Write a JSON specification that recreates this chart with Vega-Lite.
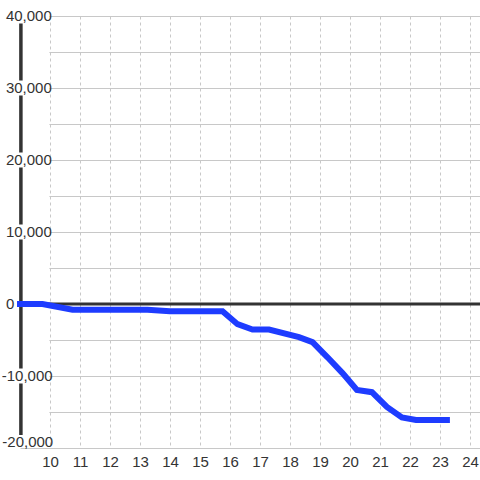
{
  "$schema": "https://vega.github.io/schema/vega-lite/v6.json",
  "width": 460,
  "height": 432,
  "autosize": {"type": "none"},
  "padding": {"left": 20, "top": 16, "right": 0, "bottom": 32},
  "background": "white",
  "config": {
    "view": {"stroke": null},
    "font": "Liberation Sans",
    "axisX": {
      "grid": true,
      "gridColor": "#c8c8c8",
      "gridDash": [3, 3],
      "gridWidth": 1,
      "domain": false,
      "ticks": false,
      "tickSize": 0,
      "labelPadding": 6,
      "labelFontSize": 15,
      "labelColor": "#333333",
      "labelFont": "Liberation Sans",
      "labelFlush": false,
      "labelOverlap": false,
      "labelSeparation": 0,
      "title": null
    },
    "axisY": {
      "grid": true,
      "gridColor": "#c8c8c8",
      "gridWidth": 1,
      "labels": false,
      "domain": false,
      "ticks": false,
      "title": null
    }
  },
  "datasets": {
    "series": [
      {"x": 8.9, "value": 0},
      {"x": 9.75, "value": 0},
      {"x": 10.75, "value": -800},
      {"x": 13.25, "value": -800},
      {"x": 14.0, "value": -1000},
      {"x": 15.75, "value": -1000},
      {"x": 16.25, "value": -2800},
      {"x": 16.75, "value": -3550},
      {"x": 17.3, "value": -3550},
      {"x": 18.3, "value": -4600},
      {"x": 18.75, "value": -5300},
      {"x": 19.25, "value": -7400},
      {"x": 19.75, "value": -9600},
      {"x": 20.23, "value": -11950},
      {"x": 20.73, "value": -12250},
      {"x": 21.23, "value": -14300},
      {"x": 21.73, "value": -15750},
      {"x": 22.2, "value": -16100},
      {"x": 23.33, "value": -16100}
    ],
    "ticks": [
      {"v": -20000, "label": "-20,000"},
      {"v": -10000, "label": "-10,000"},
      {"v": 0, "label": "0"},
      {"v": 10000, "label": "10,000"},
      {"v": 20000, "label": "20,000"},
      {"v": 30000, "label": "30,000"},
      {"v": 40000, "label": "40,000"}
    ]
  },
  "layer": [
    {
      "data": {"values": [{}]},
      "mark": {"type": "rect", "color": "white"},
      "encoding": {
        "x": {
          "datum": 9,
          "type": "quantitative",
          "title": null,
          "scale": {"domain": [9, 24.333], "nice": false, "zero": false},
          "axis": {"values": [10, 11, 12, 13, 14, 15, 16, 17, 18, 19, 20, 21, 22, 23, 24]}
        },
        "x2": {"datum": 9.98},
        "y": {
          "datum": -20000,
          "type": "quantitative",
          "title": null,
          "scale": {"domain": [-20000, 40000], "nice": false, "zero": false},
          "axis": {"values": [-20000, -15000, -10000, -5000, 0, 5000, 10000, 15000, 20000, 25000, 30000, 35000, 40000]}
        },
        "y2": {"datum": 40000}
      }
    },
    {
      "data": {"values": [{}]},
      "mark": {"type": "rule", "color": "#333333", "strokeWidth": 3.5},
      "encoding": {
        "x": {"datum": 9.03, "type": "quantitative", "title": null, "axis": {"values": [10, 11, 12, 13, 14, 15, 16, 17, 18, 19, 20, 21, 22, 23, 24]}},
        "y": {"datum": -18200, "type": "quantitative", "title": null, "axis": {"values": [-20000, -15000, -10000, -5000, 0, 5000, 10000, 15000, 20000, 25000, 30000, 35000, 40000]}},
        "y2": {"datum": 40000}
      }
    },
    {
      "data": {"values": [{}]},
      "mark": {"type": "rule", "color": "#333333", "strokeWidth": 3},
      "encoding": {
        "y": {"datum": 0, "type": "quantitative", "title": null, "axis": {"values": [-20000, -15000, -10000, -5000, 0, 5000, 10000, 15000, 20000, 25000, 30000, 35000, 40000]}}
      }
    },
    {
      "data": {"name": "ticks"},
      "transform": [{"filter": "datum.v > -20000 && datum.v != 0"}],
      "mark": {"type": "tick", "orient": "vertical", "size": 15, "thickness": 10, "color": "white", "opacity": 1},
      "encoding": {
        "x": {"datum": 9.03, "type": "quantitative", "title": null, "axis": {"values": [10, 11, 12, 13, 14, 15, 16, 17, 18, 19, 20, 21, 22, 23, 24]}},
        "y": {"field": "v", "type": "quantitative", "title": null, "axis": {"values": [-20000, -15000, -10000, -5000, 0, 5000, 10000, 15000, 20000, 25000, 30000, 35000, 40000]}}
      }
    },
    {
      "data": {"name": "series"},
      "mark": {"type": "line", "color": "#1e3cff", "strokeWidth": 6, "strokeCap": "butt", "strokeJoin": "miter"},
      "encoding": {
        "x": {"field": "x", "type": "quantitative", "title": null, "axis": {"values": [10, 11, 12, 13, 14, 15, 16, 17, 18, 19, 20, 21, 22, 23, 24]}},
        "y": {"field": "value", "type": "quantitative", "title": null, "axis": {"values": [-20000, -15000, -10000, -5000, 0, 5000, 10000, 15000, 20000, 25000, 30000, 35000, 40000]}}
      }
    },
    {
      "data": {"name": "ticks"},
      "transform": [{"filter": "datum.v >= 0"}],
      "mark": {"type": "text", "align": "left", "baseline": "middle", "fontSize": 15, "color": "#333333", "font": "Liberation Sans"},
      "encoding": {
        "x": {"datum": 8.53, "type": "quantitative", "title": null, "axis": {"values": [10, 11, 12, 13, 14, 15, 16, 17, 18, 19, 20, 21, 22, 23, 24]}},
        "y": {"field": "v", "type": "quantitative", "title": null, "axis": {"values": [-20000, -15000, -10000, -5000, 0, 5000, 10000, 15000, 20000, 25000, 30000, 35000, 40000]}},
        "text": {"field": "label"}
      }
    },
    {
      "data": {"name": "ticks"},
      "transform": [{"filter": "datum.v == -10000"}],
      "mark": {"type": "text", "align": "left", "baseline": "middle", "fontSize": 15, "color": "#333333", "font": "Liberation Sans"},
      "encoding": {
        "x": {"datum": 8.39, "type": "quantitative", "title": null, "axis": {"values": [10, 11, 12, 13, 14, 15, 16, 17, 18, 19, 20, 21, 22, 23, 24]}},
        "y": {"field": "v", "type": "quantitative", "title": null, "axis": {"values": [-20000, -15000, -10000, -5000, 0, 5000, 10000, 15000, 20000, 25000, 30000, 35000, 40000]}},
        "text": {"field": "label"}
      }
    },
    {
      "data": {"name": "ticks"},
      "transform": [{"filter": "datum.v == -20000"}],
      "mark": {"type": "text", "align": "left", "baseline": "middle", "fontSize": 15, "color": "#333333", "font": "Liberation Sans", "dy": -6},
      "encoding": {
        "x": {"datum": 8.41, "type": "quantitative", "title": null, "axis": {"values": [10, 11, 12, 13, 14, 15, 16, 17, 18, 19, 20, 21, 22, 23, 24]}},
        "y": {"field": "v", "type": "quantitative", "title": null, "axis": {"values": [-20000, -15000, -10000, -5000, 0, 5000, 10000, 15000, 20000, 25000, 30000, 35000, 40000]}},
        "text": {"field": "label"}
      }
    }
  ]
}
